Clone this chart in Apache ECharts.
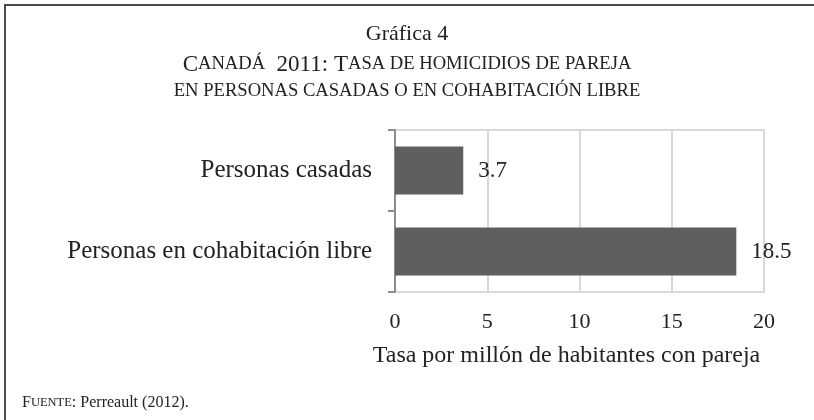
<!DOCTYPE html>
<html>
<head>
<meta charset="utf-8">
<script src="https://cdn.jsdelivr.net/npm/echarts@6/dist/echarts.min.js"></script>
<style>
  html, body { margin: 0; padding: 0; background: #fff; }
  #main { width: 814px; height: 420px; }
</style>
</head>
<body>
<div id="main"></div>
<script>
// datos de la gráfica
var categorias = ['Personas casadas', 'Personas en cohabitación libre'];
var tasas = [3.7, 18.5];
var ejeX = { min: 0, max: 20, interval: 5 };
var nombreEjeX = 'Tasa por millón de habitantes con pareja';

var serif = '"Liberation Serif", "DejaVu Serif", serif';
var chart = echarts.init(document.getElementById('main'));

chart.setOption({
    backgroundColor: '#fff',
    textStyle: { fontFamily: serif },
    title: [
        {
            text: 'Gráfica 4',
            left: 'center',
            top: 18,
            textStyle: { fontFamily: serif, fontSize: 22, fontWeight: 'normal', color: '#222' }
        },
        {
            // versalitas con texto enriquecido
            text: '{b|C}{s|ANADÁ}{b|  2011: T}{s|ASA DE HOMICIDIOS DE PAREJA}\n{s|EN PERSONAS CASADAS O EN COHABITACIÓN LIBRE}',
            left: 'center',
            top: 46,
            textStyle: {
                fontFamily: serif, fontWeight: 'normal', color: '#222', lineHeight: 27,
                rich: {
                    b: { fontFamily: serif, fontSize: 23, color: '#222', lineHeight: 27 },
                    s: { fontFamily: serif, fontSize: 18.6, color: '#222', lineHeight: 27 }
                }
            }
        },
        {
            text: '{b|F}{s|UENTE}{b|: Perreault (2012).}',
            left: 17,
            top: 390,
            textStyle: {
                fontFamily: serif, fontWeight: 'normal',
                rich: {
                    b: { fontFamily: serif, fontSize: 16, color: '#222' },
                    s: { fontFamily: serif, fontSize: 12.5, color: '#222' }
                }
            }
        }
    ],
    graphic: [
        {
            type: 'polyline',
            shape: { points: [[5, 420], [5, 5], [814, 5]] },
            style: { stroke: '#4a4a4a', lineWidth: 2, fill: null }
        }
    ],
    grid: {
        left: 395, right: 50, top: 130, bottom: 128,
        show: true, borderColor: '#d9d9d9', borderWidth: 2
    },
    xAxis: {
        type: 'value',
        min: ejeX.min, max: ejeX.max, interval: ejeX.interval,
        name: nombreEjeX,
        nameLocation: 'middle',
        nameGap: 52,
        nameTextStyle: { fontFamily: serif, fontSize: 24, color: '#222', padding: [0, 26, 0, 0] },
        axisLine: { show: false },
        axisTick: { show: false },
        axisLabel: { fontFamily: serif, fontSize: 22, color: '#222', margin: 19 },
        splitLine: { lineStyle: { color: '#d9d9d9', width: 2 } }
    },
    yAxis: {
        type: 'category',
        inverse: true,
        data: categorias,
        axisLine: { show: true, lineStyle: { color: '#8c8c8c', width: 2 } },
        axisTick: { show: true, length: 7, lineStyle: { color: '#8c8c8c', width: 2 } },
        axisLabel: { fontFamily: serif, fontSize: 25, color: '#222', margin: 23 },
        splitLine: { show: false }
    },
    series: [
        {
            type: 'bar',
            data: tasas,
            barWidth: 48,
            itemStyle: { color: '#5f5f5f' },
            label: {
                show: true,
                position: 'right',
                distance: 15,
                fontFamily: serif,
                fontSize: 23,
                color: '#222'
            }
        }
    ]
});
</script>
</body>
</html>
